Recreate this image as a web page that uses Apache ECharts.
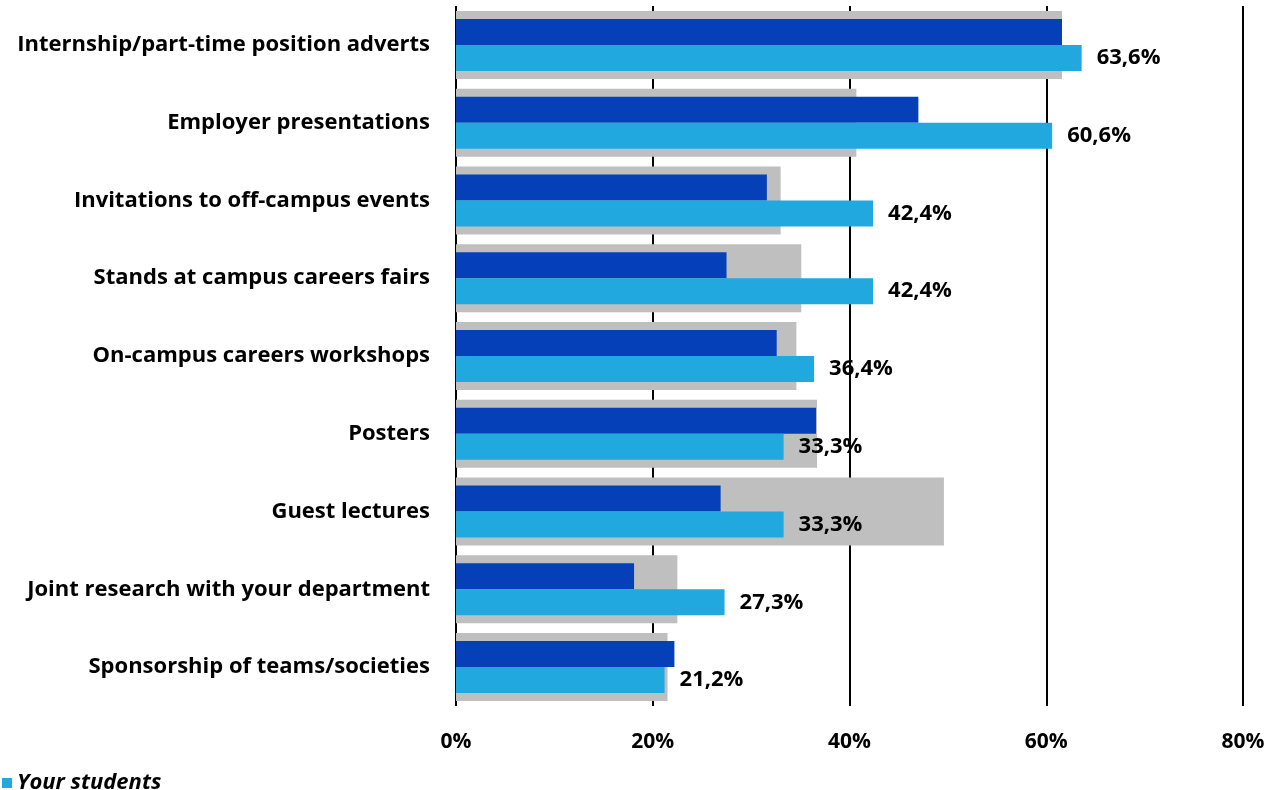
<!DOCTYPE html>
<html>
<head>
<meta charset="utf-8">
<title>Employer activities</title>
<script src="https://cdn.jsdelivr.net/npm/echarts@6/dist/echarts.min.js"></script>
<style>
  html, body { margin: 0; padding: 0; background: #fff; }
  #chart { width: 1287px; height: 790px; }
</style>
</head>
<body>
<div id="chart"></div>
<script>
  // 类别（从上到下）
  const categories = [
    'Internship/part-time position adverts',
    'Employer presentations',
    'Invitations to off-campus events',
    'Stands at campus careers fairs',
    'On-campus careers workshops',
    'Posters',
    'Guest lectures',
    'Joint research with your department',
    'Sponsorship of teams/societies'
  ]
  // 灰色背景柱（估读）
  const greyValues = [61.6, 40.7, 33.0, 35.1, 34.6, 36.7, 49.6, 22.5, 21.5]
  // 深蓝柱（估读）
  const darkValues = [61.6, 47.0, 31.6, 27.5, 32.6, 36.6, 26.9, 18.1, 22.2]
  // Your students
  const studentValues = [63.6, 60.6, 42.4, 42.4, 36.4, 33.3, 33.3, 27.3, 21.2]
  const xTicks = [0, 20, 40, 60, 80]

  const font = 'Open Sans'
  const chart = echarts.init(document.getElementById('chart'))

  const option = {
    animation: false,
    textStyle: { fontFamily: font },
    grid: {
      left: 456,
      right: 44,
      top: 6,
      bottom: 84
    },
    legend: {
      data: ['Your students'],
      left: -3,
      top: 767,
      itemWidth: 10,
      itemHeight: 10,
      icon: 'rect',
      itemGap: 6,
      textStyle: {
        fontFamily: font,
        fontSize: 22,
        fontWeight: 'bold',
        fontStyle: 'italic',
        color: '#000'
      }
    },
    xAxis: {
      type: 'value',
      min: xTicks[0],
      max: xTicks[xTicks.length - 1],
      interval: 20,
      axisLine: { show: false },
      axisTick: { show: false },
      splitLine: { show: true, lineStyle: { color: '#000', width: 2 } },
      axisLabel: {
        margin: 26,
        fontFamily: font,
        fontSize: 21,
        fontWeight: 'bold',
        color: '#000',
        formatter: (v) => v + '%'
      }
    },
    yAxis: [
      {
        type: 'category',
        inverse: true,
        data: categories,
        axisLine: { show: false },
        axisTick: { show: false },
        axisLabel: {
          margin: 26,
          fontFamily: font,
          fontSize: 22,
          fontWeight: 'bold',
          color: '#000'
        }
      },
      {
        // 灰色柱用的隐藏轴
        type: 'category',
        inverse: true,
        data: categories,
        show: false
      }
    ],
    series: [
      {
        name: 'Comparison',
        type: 'bar',
        yAxisIndex: 1,
        data: greyValues,
        barWidth: 68,
        itemStyle: { color: '#BFBFBF' },
        z: 1
      },
      {
        name: 'Other',
        type: 'bar',
        yAxisIndex: 0,
        data: darkValues,
        barWidth: 26,
        barGap: '0%',
        itemStyle: { color: '#0540B8' },
        z: 2
      },
      {
        name: 'Your students',
        type: 'bar',
        yAxisIndex: 0,
        data: studentValues,
        barWidth: 26,
        barGap: '0%',
        itemStyle: { color: '#20A8DF' },
        z: 3,
        label: {
          show: true,
          position: 'right',
          distance: 15,
          fontFamily: font,
          fontSize: 22,
          fontWeight: 'bold',
          color: '#000',
          formatter: (p) => p.value.toFixed(1).replace('.', ',') + '%'
        }
      }
    ]
  }
  chart.setOption(option)
</script>
</body>
</html>
